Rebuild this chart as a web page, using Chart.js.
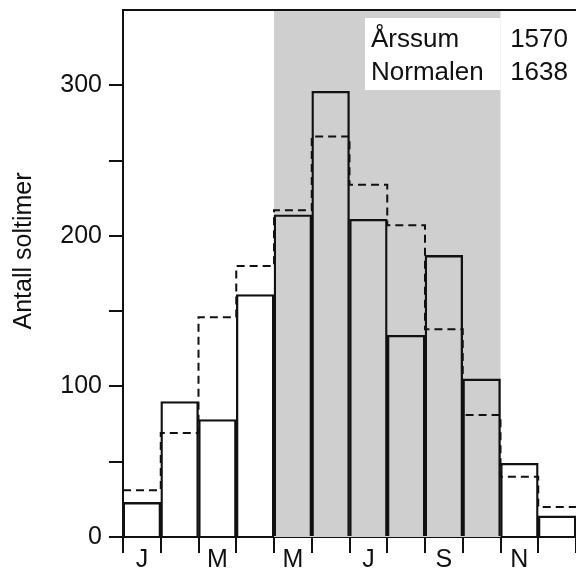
<!DOCTYPE html>
<html>
<head>
<meta charset="utf-8">
<script src="https://cdn.jsdelivr.net/npm/chart.js@4.4.0/dist/chart.umd.min.js"></script>
<style>
  html, body { margin: 0; padding: 0; background: #fff; }
  #wrap { width: 576px; height: 573px; }
</style>
</head>
<body>
<div id="wrap"><canvas id="sunChart"></canvas></div>
<script>
// Soltimer per måned, år og normal
var months = ['J', 'F', 'M', 'A', 'M', 'J', 'J', 'A', 'S', 'O', 'N', 'D'];
var hours = [23, 90, 78, 161, 214, 296, 211, 134, 187, 105, 49, 14];
var normal = [31, 69, 146, 180, 217, 266, 234, 207, 138, 81, 40, 20];
var summaryLabels = ['Årssum', 'Normalen'];
var summaryValues = ['1570', '1638'];
var shadeFrom = 4;   // mai
var shadeTo = 10;    // t.o.m. oktober
var yLabelTicks = [0, 100, 200, 300];

var FONT = "'Liberation Sans', Arial, sans-serif";
var INK = '#111';

// trappelinje for normalen: ett punkt per månedsgrense
var normalSteps = normal.map(function (v, i) { return { x: i, y: v }; });
normalSteps.push({ x: 12, y: normal[normal.length - 1] });

var decor = {
     id: 'decor',
     beforeDatasetsDraw: function (chart) {
          var ctx = chart.ctx, area = chart.chartArea, x2 = chart.scales.x2;
          var a = x2.getPixelForValue(shadeFrom), b = x2.getPixelForValue(shadeTo);
          ctx.save();
          ctx.fillStyle = '#cfcfcf';
          ctx.fillRect(a, area.top, b - a, area.bottom - area.top);
          ctx.restore();
     },
     afterDraw: function (chart) {
          var ctx = chart.ctx, area = chart.chartArea, x2 = chart.scales.x2;
          ctx.save();
          // topplinje
          ctx.strokeStyle = INK;
          ctx.lineWidth = 2;
          ctx.beginPath();
          ctx.moveTo(area.left, area.top);
          ctx.lineTo(area.right, area.top);
          ctx.stroke();

          // boks med årssum
          var boxRight = x2.getPixelForValue(shadeTo);
          ctx.fillStyle = '#fff';
          ctx.fillRect(365, area.top + 8, boxRight - 365, 72);
          ctx.fillStyle = INK;
          ctx.font = '26px ' + FONT;
          ctx.textBaseline = 'alphabetic';
          for (var i = 0; i < summaryLabels.length; i++) {
               var y = area.top + 37 + i * 33;
               ctx.textAlign = 'left';
               ctx.fillText(summaryLabels[i], 371, y);
               ctx.textAlign = 'right';
               ctx.fillText(summaryValues[i], 568, y);
          }

          // aksetittel
          ctx.translate(24, 251);
          ctx.rotate(-Math.PI / 2);
          ctx.textAlign = 'center';
          ctx.textBaseline = 'middle';
          ctx.font = '25px ' + FONT;
          ctx.fillText('Antall soltimer', 0, 0);
          ctx.restore();
     }
};

var ctxS = document.getElementById('sunChart').getContext('2d');
var sunChart = new Chart(ctxS, {
     type: 'bar',
     data: {
          labels: months,
          datasets: [{
               type: 'line',
               xAxisID: 'x2',
               data: normalSteps,
               stepped: true,
               borderColor: INK,
               borderWidth: 2,
               borderDash: [8, 5],
               pointRadius: 0,
               fill: false,
               order: 1
          }, {
               type: 'bar',
               xAxisID: 'x',
               data: hours,
               backgroundColor: 'rgba(0,0,0,0)',
               borderColor: INK,
               borderWidth: 1.7,
               borderSkipped: 'bottom',
               categoryPercentage: 1,
               barPercentage: 1,
               grouped: false,
               order: 2
          }]
     },
     options: {
          responsive: true,
          maintainAspectRatio: false,
          animation: false,
          layout: { padding: { top: 10, right: 0, left: 0, bottom: 0 } },
          plugins: {
               legend: { display: false },
               tooltip: { enabled: false }
          },
          scales: {
               x: {
                    type: 'category',
                    offset: true,
                    grid: {
                         offset: true,
                         drawOnChartArea: false,
                         tickLength: 16,
                         color: INK,
                         lineWidth: 2
                    },
                    border: { color: INK, width: 2 },
                    ticks: {
                         autoSkip: false,
                         maxRotation: 0,
                         padding: -8,
                         color: INK,
                         font: { family: FONT, size: 25 },
                         callback: function (v, i) { return i % 2 === 0 ? months[i] : ''; }
                    },
                    afterFit: function (s) { s.height = 36; s.paddingLeft = 0; s.paddingRight = 0; }
               },
               x2: {
                    type: 'linear',
                    display: false,
                    offset: false,
                    grid: { offset: false },
                    min: 0,
                    max: 12
               },
               y: {
                    min: 0,
                    max: 350,
                    grid: {
                         drawOnChartArea: false,
                         tickLength: 14,
                         lineWidth: 2,
                         color: function (c) { return c.tick && c.tick.value === 350 ? 'rgba(0,0,0,0)' : INK; }
                    },
                    border: { color: INK, width: 2 },
                    ticks: {
                         stepSize: 50,
                         padding: 7,
                         color: INK,
                         font: { family: FONT, size: 25 },
                         callback: function (v) { return yLabelTicks.indexOf(v) >= 0 ? String(v) : ''; }
                    },
                    afterFit: function (s) { s.width = 123; s.paddingTop = 0; s.paddingBottom = 0; }
               }
          }
     },
     plugins: [decor]
});
</script>
</body>
</html>
